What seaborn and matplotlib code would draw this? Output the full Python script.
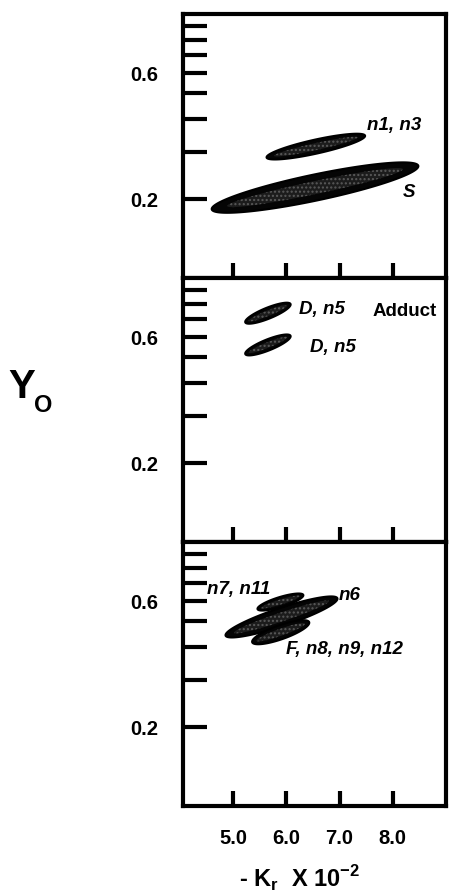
import numpy as np
import matplotlib
matplotlib.use("Agg")
import matplotlib.pyplot as plt
import seaborn as sns
from matplotlib.ticker import FixedLocator, NullLocator, FixedFormatter

# ---------------- data ----------------
x_ticks = [5.0, 6.0, 7.0, 8.0]
x_tick_labels = ["5.0", "6.0", "7.0", "8.0"]
y_ticks = [0.2, 0.3, 0.4, 0.5, 0.6, 0.7, 0.8, 0.9]
y_tick_labels = ["0.2", "", "", "", "0.6", "", "", ""]

# confidence ellipses: panel, left end (x, y), right end (x, y)
ell_panel = [0, 0, 1, 1, 2, 2, 2]
ell_x_left = [5.63, 4.60, 5.23, 5.23, 4.86, 5.46, 5.36]
ell_y_left = [0.286, 0.182, 0.679, 0.515, 0.442, 0.557, 0.417]
ell_x_right = [7.48, 8.48, 6.08, 6.08, 6.96, 6.32, 6.43]
ell_y_right = [0.346, 0.266, 0.797, 0.604, 0.612, 0.630, 0.497]

# labels
lab_panel = [0, 0, 1, 1, 1, 2, 2, 2]
lab_text = ["n1, n3", "S", "D, n5", "Adduct", "D, n5", "n7, n11", "n6", "F, n8, n9, n12"]
lab_x = [7.51, 8.19, 6.23, 7.62, 6.45, 4.51, 6.99, 5.99]
lab_y = [0.38, 0.212, 0.769, 0.756, 0.552, 0.664, 0.63, 0.394]
lab_italic = [True, True, True, False, True, True, True, True]

# ---------------- style ----------------
ELL_THICK_PX = [14, 26, 11, 11, 18, 10, 14]

sns.set_style("white")
plt.rcParams["font.family"] = ["Liberation Sans", "DejaVu Sans"]
plt.rcParams["mathtext.fontset"] = "custom"
plt.rcParams["mathtext.bf"] = "Liberation Sans:bold"
plt.rcParams["mathtext.rm"] = "Liberation Sans"
for k in ["text.color", "axes.labelcolor", "xtick.color", "ytick.color",
          "axes.edgecolor"]:
    plt.rcParams[k] = "black"

W, H = 449, 895
DPI = 100
fig = plt.figure(figsize=(W / DPI, H / DPI), dpi=DPI)

left_px, right_px = 183, 446
tops = [15, 279, 543]
panel_h = 264
axes = []
for i, top in enumerate(tops):
    ax = fig.add_axes([left_px / W, 1 - (top + panel_h) / H,
                       (right_px - left_px) / W, panel_h / H])
    ax.set_yscale("log")
    ax.set_xlim(4.06, 9.0)
    ax.set_ylim(0.1, 1.0)
    ax.yaxis.set_major_locator(FixedLocator(y_ticks))
    ax.yaxis.set_major_formatter(FixedFormatter(y_tick_labels))
    ax.yaxis.set_minor_locator(NullLocator())
    ax.xaxis.set_major_locator(FixedLocator(x_ticks))
    if i == 2:
        ax.xaxis.set_major_formatter(FixedFormatter(x_tick_labels))
    else:
        ax.xaxis.set_major_formatter(FixedFormatter([""] * len(x_ticks)))
    ax.xaxis.set_minor_locator(NullLocator())
    for s in ax.spines.values():
        s.set_linewidth(3)
        s.set_color("black")
        s.set_visible(True)
    ax.tick_params(axis="y", direction="in", length=17, width=3, pad=18,
                   labelsize=14.5, left=True, right=False, colors="black")
    ax.tick_params(axis="x", direction="in", length=11, width=3, pad=16,
                   labelsize=14.5, bottom=True, top=False, colors="black")
    for lab in ax.get_xticklabels() + ax.get_yticklabels():
        lab.set_fontweight("bold")
    ax.set_facecolor("white")
    axes.append(ax)


def draw_ellipse(ax, xl, yl, xr, yr, thick_px, n=240):
    p1 = ax.transData.transform((xl, yl))
    p2 = ax.transData.transform((xr, yr))
    c = (p1 + p2) / 2
    d = p2 - p1
    a = np.hypot(d[0], d[1]) / 2
    th = np.arctan2(d[1], d[0])
    b = thick_px / 2
    t = np.linspace(0, 2 * np.pi, n)
    u = np.array([np.cos(th), np.sin(th)])
    v = np.array([-np.sin(th), np.cos(th)])
    pts = c + np.outer(a * np.cos(t), u) + np.outer(b * np.sin(t), v)
    data = ax.transData.inverted().transform(pts)
    ax.fill(data[:, 0], data[:, 1], facecolor="#050505", edgecolor="black",
            linewidth=1.5, zorder=3)
    # faint stippled grey interior
    pts2 = c + np.outer(0.85 * a * np.cos(t), u) + np.outer(0.5 * b * np.sin(t), v)
    data2 = ax.transData.inverted().transform(pts2)
    ax.fill(data2[:, 0], data2[:, 1], facecolor="#1c1c1c", edgecolor="#5a5a5a",
            linewidth=0, hatch="....", zorder=4)


for p, xl, yl, xr, yr, tk in zip(ell_panel, ell_x_left, ell_y_left,
                                  ell_x_right, ell_y_right, ELL_THICK_PX):
    draw_ellipse(axes[p], xl, yl, xr, yr, tk)

for p, txt, x, y, it in zip(lab_panel, lab_text, lab_x, lab_y, lab_italic):
    axes[p].text(x, y, txt, ha="left", va="center", fontsize=13.5,
                 fontweight="bold", fontstyle="italic" if it else "normal",
                 color="black", zorder=5)

# axis titles
fig.text(8 / W, 1 - 398 / H, "Y", ha="left", va="baseline", fontsize=29,
         fontweight="bold", color="black")
fig.text(34 / W, 1 - 412 / H, "O", ha="left", va="baseline", fontsize=17,
         fontweight="bold", color="black")
fig.text(300 / W, 1 - 888 / H, r"- K$_{\mathbf{r}}$  X 10$^{\mathbf{-2}}$",
         ha="center", va="baseline", fontsize=17, fontweight="bold",
         color="black")

fig.savefig("out.png", dpi=DPI, facecolor="white")
